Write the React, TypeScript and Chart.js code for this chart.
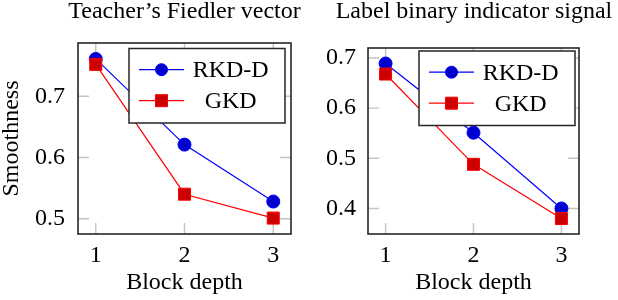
import React, { useEffect, useRef } from 'react';
import { Chart, registerables } from 'chart.js';

Chart.register(...registerables);

// ---- data ----
const blockDepth = [1, 2, 3];
const seriesNames = ['RKD-D', 'GKD'];
const fiedlerRkdD = [0.761, 0.621, 0.528];
const fiedlerGkd = [0.752, 0.54, 0.501];
const labelRkdD = [0.689, 0.551, 0.4];
const labelGkd = [0.668, 0.488, 0.38];
const fiedlerYTicks = [0.5, 0.6, 0.7];
const labelYTicks = [0.4, 0.5, 0.6, 0.7];
const panelTitles = ['Teacher\u2019s Fiedler vector', 'Label binary indicator signal'];
const xAxisTitle = 'Block depth';
const yAxisTitle = 'Smoothness';

const FONT_FAMILY = "'Liberation Serif', 'Times New Roman', serif";
const font = { family: FONT_FAMILY, size: 24, lineHeight: 1, weight: 'normal' };

type Panel = {
  title: string;
  rkd: number[];
  gkd: number[];
  yTicks: number[];
  showYTitle: boolean;
  left: number;
  width: number;
  yWidth: number;
  rightWidth: number;
  titleGap: number;
  yPad: number;
  legendInsetRight: number;
  legendInsetTop: number;
};

const panels: Panel[] = [
  {
    title: panelTitles[0], rkd: fiedlerRkdD, gkd: fiedlerGkd, yTicks: fiedlerYTicks, showYTitle: true,
    left: 0, width: 369, yWidth: 78, rightWidth: 78, titleGap: 19, yPad: 13,
    legendInsetRight: 6, legendInsetTop: 5.5,
  },
  {
    title: panelTitles[1], rkd: labelRkdD, gkd: labelGkd, yTicks: labelYTicks, showYTitle: false,
    left: 320, width: 308, yWidth: 48, rightWidth: 49, titleGap: 24, yPad: 12,
    legendInsetRight: 4, legendInsetTop: 3,
  },
];

function enlarged(values: number[]) {
  const lo = Math.min(...values);
  const hi = Math.max(...values);
  const r = hi - lo;
  return { min: lo - 0.1 * r, max: hi + 0.1 * r };
}

function decorPlugin(p: Panel) {
  return {
    id: 'pgfDecor',
    beforeDatasetsDraw(chart: any) {
      const { ctx, chartArea: a, scales } = chart;
      ctx.save();
      ctx.strokeStyle = '#c4c4c4';
      ctx.lineWidth = 1.4;
      const tl = 11;
      ctx.beginPath();
      for (const t of scales.x.ticks) {
        const px = scales.x.getPixelForValue(t.value);
        ctx.moveTo(px, a.bottom); ctx.lineTo(px, a.bottom - tl);
        ctx.moveTo(px, a.top); ctx.lineTo(px, a.top + tl);
      }
      for (const t of scales.y.ticks) {
        const py = scales.y.getPixelForValue(t.value);
        ctx.moveTo(a.left, py); ctx.lineTo(a.left + tl, py);
        ctx.moveTo(a.right, py); ctx.lineTo(a.right - tl, py);
      }
      ctx.stroke();
      ctx.strokeStyle = '#262626';
      ctx.lineWidth = 1.6;
      ctx.strokeRect(a.left, a.top, a.right - a.left, a.bottom - a.top);
      ctx.restore();
    },
    afterDatasetsDraw(chart: any) {
      const { ctx, chartArea: a } = chart;
      const w = 156;
      const h = 74.5;
      const x = a.right - p.legendInsetRight - w;
      const y = a.top + p.legendInsetTop;
      ctx.save();
      ctx.fillStyle = '#ffffff';
      ctx.fillRect(x, y, w, h);
      ctx.strokeStyle = '#262626';
      ctx.lineWidth = 1.5;
      ctx.strokeRect(x, y, w, h);
      chart.data.datasets.forEach((ds: any, i: number) => {
        const ry = y + 21.2 + i * 31;
        ctx.strokeStyle = ds.borderColor;
        ctx.lineWidth = 1.2;
        ctx.beginPath();
        ctx.moveTo(x + 10, ry);
        ctx.lineTo(x + 55, ry);
        ctx.stroke();
        ctx.fillStyle = ds.pointBackgroundColor;
        ctx.strokeStyle = ds.pointBorderColor;
        ctx.lineWidth = 1;
        const mx = x + 32.5;
        ctx.beginPath();
        if (ds.pointStyle === 'rect') {
          ctx.rect(mx - 6, ry - 6, 12, 12);
        } else {
          ctx.arc(mx, ry, 6, 0, Math.PI * 2);
        }
        ctx.fill();
        ctx.stroke();
        ctx.fillStyle = '#000';
        ctx.font = `24px ${FONT_FAMILY}`;
        ctx.textAlign = 'center';
        ctx.textBaseline = 'alphabetic';
        ctx.fillText(ds.label, x + 101.7, ry + 7.6);
      });
      ctx.restore();
    },
  };
}

function PanelChart({ p }: { p: Panel }) {
  const ref = useRef<HTMLCanvasElement | null>(null);
  useEffect(() => {
    if (!ref.current) return;
    const yr = enlarged([...p.rkd, ...p.gkd]);
    const xr = enlarged(blockDepth);
    const chart = new Chart(ref.current, {
      type: 'line',
      data: {
        datasets: [
          {
            label: seriesNames[0],
            data: blockDepth.map((x, i) => ({ x, y: p.rkd[i] })),
            borderColor: '#0000ff',
            backgroundColor: '#0000cc',
            pointBackgroundColor: '#0000cc',
            pointBorderColor: '#0000ff',
            pointStyle: 'circle',
            pointRadius: 6.5,
            pointBorderWidth: 1,
            borderWidth: 1.2,
            order: 1,
            clip: false,
          } as any,
          {
            label: seriesNames[1],
            data: blockDepth.map((x, i) => ({ x, y: p.gkd[i] })),
            borderColor: '#ff0000',
            backgroundColor: '#cc0000',
            pointBackgroundColor: '#cc0000',
            pointBorderColor: '#ff0000',
            pointStyle: 'rect',
            pointRadius: 8.5,
            pointBorderWidth: 1,
            borderWidth: 1.2,
            order: 0,
            clip: false,
          } as any,
        ],
      },
      options: {
        responsive: false,
        animation: false,
        events: [],
        layout: { padding: 0 },
        plugins: {
          legend: { display: false },
          tooltip: { enabled: false },
          title: {
            display: true,
            text: p.title,
            color: '#000',
            font,
            padding: { top: 0, bottom: p.titleGap },
          },
        },
        scales: {
          x: {
            type: 'linear',
            min: xr.min,
            max: xr.max,
            grid: { display: false, drawTicks: false },
            border: { display: false },
            ticks: {
              color: '#000',
              font,
              padding: 10,
              autoSkip: false,
              maxRotation: 0,
              callback: (v: any) => String(v),
            },
            afterBuildTicks: (s: any) => {
              s.ticks = blockDepth.map((v) => ({ value: v }));
            },
            title: {
              display: true,
              text: xAxisTitle,
              color: '#000',
              font,
              padding: { top: 0, bottom: 5 },
            },
            afterFit: (s: any) => {
              s.height = 66;
            },
          },
          y: {
            type: 'linear',
            min: yr.min,
            max: yr.max,
            grid: { display: false, drawTicks: false },
            border: { display: false },
            ticks: {
              color: '#000',
              font,
              padding: p.yPad,
              autoSkip: false,
              callback: (v: any) => Number(v).toFixed(1),
            },
            afterBuildTicks: (s: any) => {
              s.ticks = p.yTicks.map((v) => ({ value: v }));
            },
            title: {
              display: p.showYTitle,
              text: yAxisTitle,
              color: '#000',
              font,
              padding: { top: 0, bottom: 0 },
            },
            afterFit: (s: any) => {
              s.width = p.yWidth;
            },
          },
          y2: {
            type: 'linear',
            position: 'right',
            display: true,
            grid: { display: false, drawTicks: false },
            border: { display: false },
            ticks: { display: false },
            afterFit: (s: any) => {
              s.width = p.rightWidth;
            },
          },
        },
      } as any,
      plugins: [decorPlugin(p)],
    });
    return () => chart.destroy();
  }, [p]);
  return (
    <canvas
      ref={ref}
      width={p.width}
      height={300}
      style={{ position: 'absolute', left: p.left, top: 0, width: p.width, height: 300 }}
    />
  );
}

export default function App() {
  return (
    <div
      style={{
        position: 'fixed',
        left: 0,
        top: 0,
        width: 618,
        height: 300,
        overflow: 'hidden',
        background: '#fff',
      }}
    >
      {panels.map((p, i) => (
        <PanelChart key={i} p={p} />
      ))}
    </div>
  );
}
